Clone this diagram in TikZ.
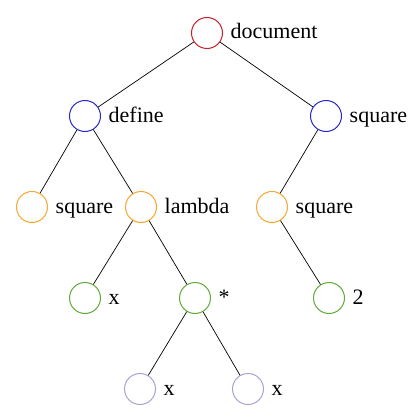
\documentclass[tikz,border=0pt]{standalone}
\usepackage{fontspec}
\setmainfont{Liberation Serif}
\definecolor{cred}{RGB}{200,30,40}
\definecolor{cblue}{RGB}{40,40,200}
\definecolor{corange}{RGB}{250,165,45}
\definecolor{cgreen}{RGB}{95,170,55}
\definecolor{clav}{RGB}{175,160,210}
\begin{document}
\begin{tikzpicture}[x=1pt,y=-1pt,
  every label/.style={text height=16pt,text depth=4pt,inner sep=0pt,font=\fontsize{22}{26}\selectfont},
  label distance=7.5pt,
  tn/.style={circle,draw=#1,line width=1pt,minimum size=31pt,inner sep=0pt},
  edge/.style={draw=black,line width=0.7pt}]
\useasboundingbox (0,0) rectangle (420,420);
\node[tn=cred,label=right:document] (doc) at (207,33) {};
\node[tn=cblue,label=right:define] (def) at (85,116) {};
\node[tn=cblue,label=right:square] (sqr) at (326,116) {};
\node[tn=corange,label=right:square] (sql) at (32,207) {};
\node[tn=corange,label=right:lambda] (lam) at (141,207) {};
\node[tn=corange,label=right:square] (sqm) at (272,207) {};
\node[tn=cgreen,label=right:x] (x1) at (85,298) {};
\node[tn=cgreen,label=right:*] (mul) at (195,298) {};
\node[tn=cgreen,label=right:2] (two) at (329,298) {};
\node[tn=clav,label=right:x] (x2) at (140,389) {};
\node[tn=clav,label=right:x] (x3) at (248,389) {};
\draw[edge] (doc) -- (def);
\draw[edge] (doc) -- (sqr);
\draw[edge] (def) -- (sql);
\draw[edge] (def) -- (lam);
\draw[edge] (sqr) -- (sqm);
\draw[edge] (lam) -- (x1);
\draw[edge] (lam) -- (mul);
\draw[edge] (sqm) -- (two);
\draw[edge] (mul) -- (x2);
\draw[edge] (mul) -- (x3);
\end{tikzpicture}
\end{document}
